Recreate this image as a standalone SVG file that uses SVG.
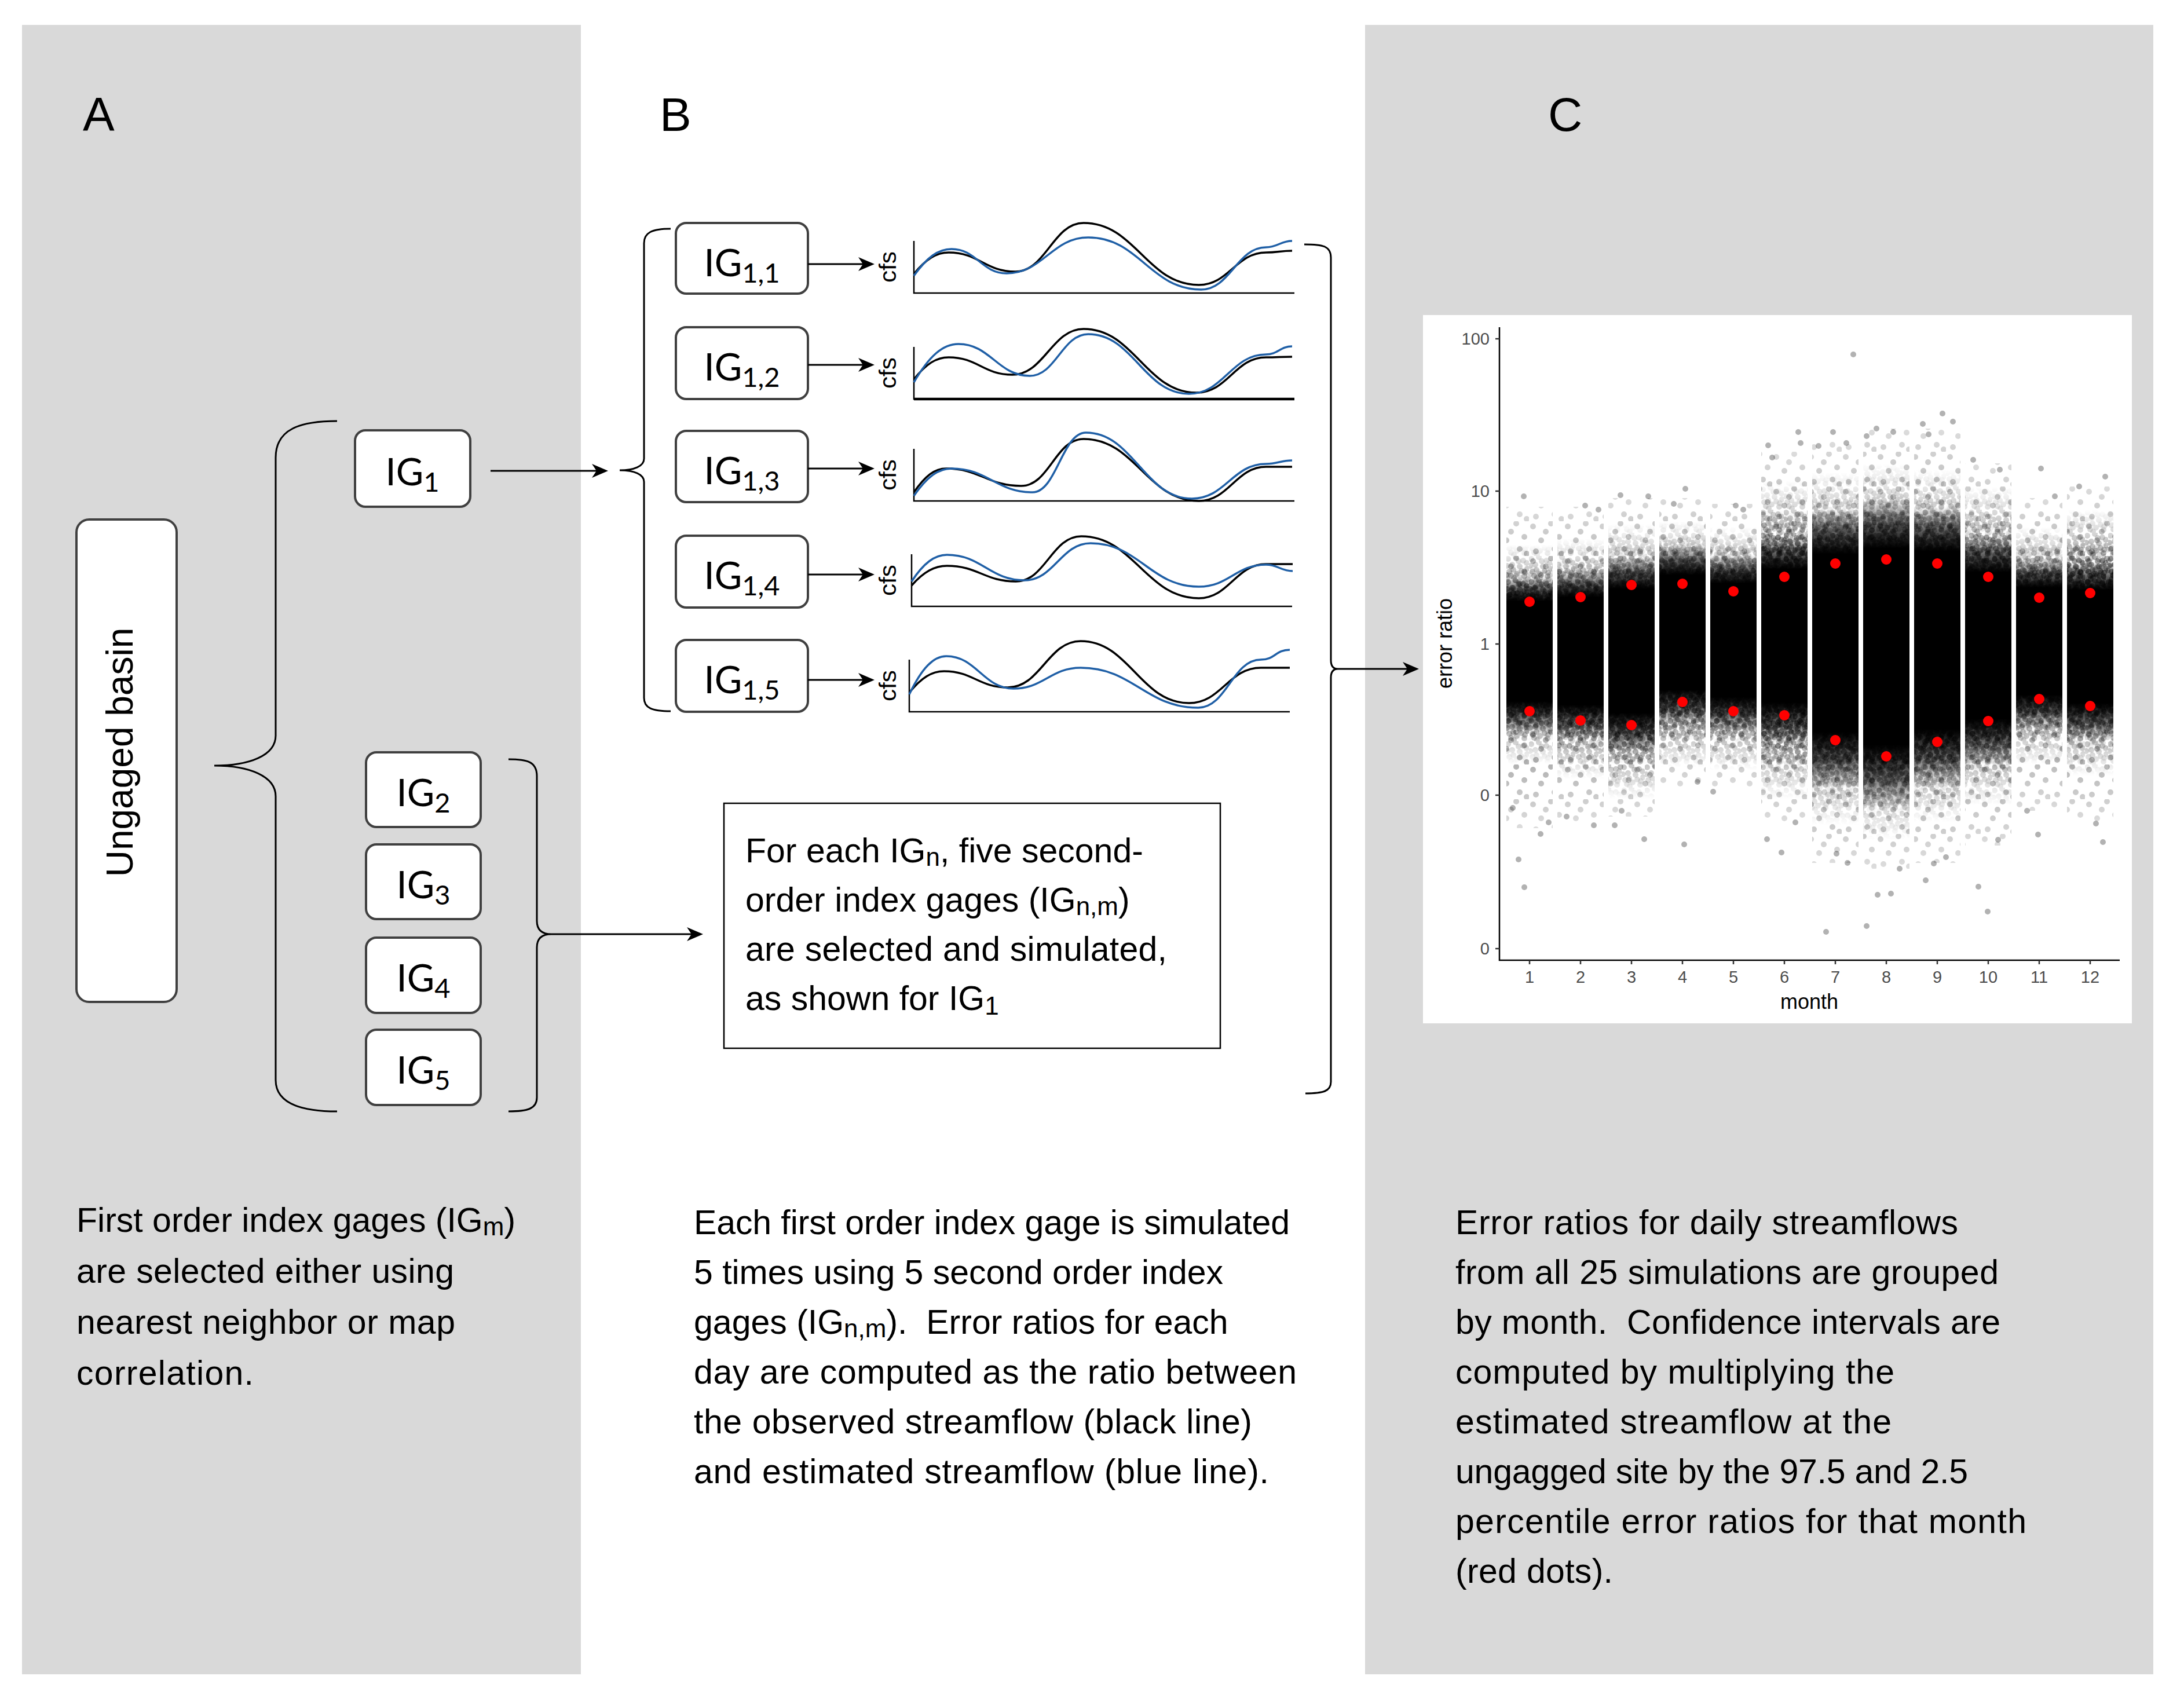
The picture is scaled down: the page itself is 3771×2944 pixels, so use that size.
<svg xmlns="http://www.w3.org/2000/svg" width="3771" height="2944" viewBox="0 0 3771 2944">
<defs>
<style>
.panel{fill:#d9d9d9}
.lbl{font-family:"Liberation Sans",Arial,sans-serif;font-size:82px;fill:#000}
.body{font-family:"Liberation Sans",Arial,sans-serif;font-size:59px;fill:#000;white-space:pre}
.sub{font-size:44px}
.box{fill:#fff;stroke:#404040;stroke-width:4}
.tbox{fill:#fff;stroke:#000;stroke-width:2.5}
.ig{font-family:Lato,"Liberation Sans",sans-serif;font-size:65px;fill:#000}
.igs{font-size:47px}
.con{fill:none;stroke:#000;stroke-width:3}
.arrow{fill:none;stroke:#000;stroke-width:3;marker-end:url(#ah)}
.axis{fill:none;stroke:#000;stroke-width:2.5}
.obs{fill:none;stroke:#000;stroke-width:3.5}
.est{fill:none;stroke:#1f5fa6;stroke-width:3.5}
.cfs{font-family:"Liberation Sans",Arial,sans-serif;font-size:40px;fill:#000}
.tick{font-family:"Liberation Sans",Arial,sans-serif;font-size:29px;fill:#4d4d4d}
.ttl{font-family:"Liberation Sans",Arial,sans-serif;font-size:36px;fill:#000}
.sp{fill:url(#ps);mask:url(#fm2)}
.ha{fill:url(#pdA);mask:url(#fm)}
.hb{fill:url(#pdB);mask:url(#fm)}
.core{fill:url(#cg)}
.red{fill:#ff0000}
.out{fill:#000;fill-opacity:.3}
.tk{stroke:#333;stroke-width:2.5}
</style>
<marker id="ah" viewBox="-30 -15 30 30" refX="-5" refY="0" markerWidth="30" markerHeight="30" markerUnits="userSpaceOnUse" orient="auto">
<path d="M0,0 L-28,-12 L-20,0 L-28,12 Z" fill="#000"/>
</marker>
<linearGradient id="cg" x1="0" y1="0" x2="0" y2="1">
<stop offset="0" stop-color="#000" stop-opacity="0"/>
<stop offset=".08" stop-color="#000" stop-opacity=".6"/>
<stop offset=".16" stop-color="#000" stop-opacity="1"/>
<stop offset=".8" stop-color="#000" stop-opacity="1"/>
<stop offset=".9" stop-color="#000" stop-opacity=".6"/>
<stop offset="1" stop-color="#000" stop-opacity="0"/>
</linearGradient>
<linearGradient id="fg" x1="0" y1="0" x2="0" y2="1">
<stop offset="0" stop-color="#fff" stop-opacity="0"/>
<stop offset=".22" stop-color="#fff" stop-opacity="1"/>
<stop offset=".78" stop-color="#fff" stop-opacity="1"/>
<stop offset="1" stop-color="#fff" stop-opacity="0"/>
</linearGradient>
<linearGradient id="fg2" x1="0" y1="0" x2="0" y2="1">
<stop offset="0" stop-color="#fff" stop-opacity=".45"/>
<stop offset=".2" stop-color="#fff" stop-opacity="1"/>
<stop offset=".8" stop-color="#fff" stop-opacity="1"/>
<stop offset="1" stop-color="#fff" stop-opacity=".45"/>
</linearGradient>
<mask id="fm" maskContentUnits="objectBoundingBox" x="0" y="0" width="1" height="1">
<rect x="0" y="0" width="1" height="1" fill="url(#fg)"/>
</mask>
<mask id="fm2" maskContentUnits="objectBoundingBox" x="0" y="0" width="1" height="1">
<rect x="0" y="0" width="1" height="1" fill="url(#fg2)"/>
</mask>
<pattern id="pdA" width="40" height="40" patternUnits="userSpaceOnUse">
<g fill="#000" fill-opacity=".4">
<circle cx="4" cy="5" r="5"/><circle cx="17" cy="2" r="5"/><circle cx="30" cy="8" r="5"/><circle cx="11" cy="15" r="5"/><circle cx="24" cy="18" r="5"/><circle cx="37" cy="22" r="5"/><circle cx="6" cy="27" r="5"/><circle cx="19" cy="31" r="5"/><circle cx="32" cy="35" r="5"/><circle cx="14" cy="38" r="5"/><circle cx="27" cy="26" r="5"/><circle cx="2" cy="17" r="5"/><circle cx="36" cy="12" r="5"/><circle cx="9" cy="34" r="5"/><circle cx="22" cy="9" r="5"/><circle cx="33" cy="29" r="5"/><circle cx="13" cy="24" r="5"/>
</g>
</pattern>
<pattern id="pdB" width="36" height="36" patternUnits="userSpaceOnUse">
<g fill="#000" fill-opacity=".45">
<circle cx="8" cy="3" r="5"/><circle cx="21" cy="7" r="5"/><circle cx="33" cy="2" r="5"/><circle cx="3" cy="13" r="5"/><circle cx="15" cy="19" r="5"/><circle cx="28" cy="16" r="5"/><circle cx="10" cy="28" r="5"/><circle cx="24" cy="30" r="5"/><circle cx="34" cy="25" r="5"/><circle cx="18" cy="11" r="5"/><circle cx="5" cy="33" r="5"/><circle cx="30" cy="34" r="5"/><circle cx="25" cy="22" r="5"/><circle cx="12" cy="21" r="5"/>
</g>
</pattern>
<pattern id="ps" width="60" height="60" patternUnits="userSpaceOnUse">
<g fill="#000" fill-opacity=".3">
<circle cx="7" cy="9" r="5"/><circle cx="38" cy="4" r="5"/><circle cx="52" cy="27" r="5"/><circle cx="21" cy="33" r="5"/><circle cx="44" cy="48" r="5"/><circle cx="12" cy="52" r="5"/><circle cx="29" cy="18" r="5"/><circle cx="56" cy="56" r="5"/>
</g>
</pattern>
</defs>

<rect x="0" y="0" width="3771" height="2944" fill="#fff"/>
<g id="panels">
<rect class="panel" x="38" y="43" width="965" height="2848"/>
<rect class="panel" x="2357" y="43" width="1361" height="2848"/>
</g>

<g id="panel-labels">
<text class="lbl" x="143" y="225">A</text>
<text class="lbl" x="1139" y="226">B</text>
<text class="lbl" x="2673" y="226">C</text>
</g>

<g id="node-ungaged">
<rect class="box" x="132" y="897" width="173" height="833" rx="22"/>
<text class="body" style="font-size:64px" text-anchor="middle" transform="translate(229,1299) rotate(-90)">Ungaged basin</text>
</g>

<g id="node-IG1">
<rect class="box" x="613" y="743" width="199" height="132" rx="18"/>
<text class="ig" x="712" y="838" text-anchor="middle">IG<tspan class="igs" dy="11">1</tspan></text>
</g>
<g id="node-IG2">
<rect class="box" x="632" y="1299" width="198" height="129" rx="18"/>
<text class="ig" x="731" y="1392" text-anchor="middle">IG<tspan class="igs" dy="11">2</tspan></text>
</g>
<g id="node-IG3">
<rect class="box" x="632" y="1458" width="198" height="129" rx="18"/>
<text class="ig" x="731" y="1551" text-anchor="middle">IG<tspan class="igs" dy="11">3</tspan></text>
</g>
<g id="node-IG4">
<rect class="box" x="632" y="1619" width="198" height="130" rx="18"/>
<text class="ig" x="731" y="1712" text-anchor="middle">IG<tspan class="igs" dy="11">4</tspan></text>
</g>
<g id="node-IG5">
<rect class="box" x="632" y="1778" width="198" height="130" rx="18"/>
<text class="ig" x="731" y="1871" text-anchor="middle">IG<tspan class="igs" dy="11">5</tspan></text>
</g>

<g id="node-IG11">
<rect class="box" x="1167" y="385" width="228" height="122" rx="18"/>
<text class="ig" x="1281" y="477" text-anchor="middle">IG<tspan class="igs" dy="11">1,1</tspan></text>
</g>
<g id="node-IG12">
<rect class="box" x="1167" y="565" width="228" height="124" rx="18"/>
<text class="ig" x="1281" y="657" text-anchor="middle">IG<tspan class="igs" dy="11">1,2</tspan></text>
</g>
<g id="node-IG13">
<rect class="box" x="1167" y="744" width="228" height="123" rx="18"/>
<text class="ig" x="1281" y="836" text-anchor="middle">IG<tspan class="igs" dy="11">1,3</tspan></text>
</g>
<g id="node-IG14">
<rect class="box" x="1167" y="925" width="228" height="124" rx="18"/>
<text class="ig" x="1281" y="1017" text-anchor="middle">IG<tspan class="igs" dy="11">1,4</tspan></text>
</g>
<g id="node-IG15">
<rect class="box" x="1167" y="1105" width="228" height="124" rx="18"/>
<text class="ig" x="1281" y="1197" text-anchor="middle">IG<tspan class="igs" dy="11">1,5</tspan></text>
</g>

<g id="chart1" transform="translate(1578,506)">
<path class="axis" d="M0,-90 L0,0 L657,0"/>
<path class="obs" d="M0,-33 C21,-59 39,-70 60,-70 C112,-70 123,-37 175,-37 C228,-37 240,-121 293,-121 C383,-121 402,-14 492,-14 C544,-14 556,-70 608,-70 C628,-70 633,-73 653,-73"/>
<path class="est" d="M0,-30 C23,-62 42,-76 65,-76 C108,-76 117,-34 160,-34 C223,-34 238,-96 301,-96 C389,-96 408,-6 496,-6 C546,-6 558,-79 608,-79 C628,-79 633,-90 653,-90"/>
<text class="cfs" text-anchor="middle" textLength="54" lengthAdjust="spacingAndGlyphs" transform="translate(-31,-45) rotate(-90)">cfs</text>
</g>
<g id="chart2" transform="translate(1578,689)">
<path class="axis" d="M0,-90 L0,0 L657,0"/>
<path class="axis" style="stroke-width:4.5" d="M0,0 L657,0"/>
<path class="obs" d="M0,-34 C21,-61 39,-72 60,-72 C110,-72 120,-42 170,-42 C225,-42 238,-121 293,-121 C381,-121 400,-11 488,-11 C542,-11 554,-72 608,-72 C628,-72 633,-73 653,-73"/>
<path class="est" d="M0,-29 C27,-75 50,-95 77,-95 C132,-95 145,-40 200,-40 C245,-40 256,-112 301,-112 C379,-112 397,-9 475,-9 C535,-9 548,-77 608,-77 C628,-77 633,-91 653,-91"/>
<text class="cfs" text-anchor="middle" textLength="54" lengthAdjust="spacingAndGlyphs" transform="translate(-31,-45) rotate(-90)">cfs</text>
</g>
<g id="chart3" transform="translate(1578,865)">
<path class="axis" d="M0,-90 L0,0 L657,0"/>
<path class="obs" d="M0,-15 C20,-44 36,-56 56,-56 C114,-56 127,-26 185,-26 C234,-26 244,-107 293,-107 C383,-107 402,0 492,0 C544,0 556,-59 608,-59 C628,-59 633,-59 653,-59"/>
<path class="est" d="M0,-9 C23,-42 42,-56 65,-56 C128,-56 142,-15 205,-15 C246,-15 256,-118 297,-118 C379,-118 398,-4 480,-4 C538,-4 550,-64 608,-64 C628,-64 633,-70 653,-70"/>
<text class="cfs" text-anchor="middle" textLength="54" lengthAdjust="spacingAndGlyphs" transform="translate(-31,-45) rotate(-90)">cfs</text>
</g>
<g id="chart4" transform="translate(1574,1047)">
<path class="axis" d="M0,-90 L0,0 L657,0"/>
<path class="obs" d="M0,-36 C21,-60 40,-70 61,-70 C115,-70 126,-43 180,-43 C231,-43 242,-121 293,-121 C384,-121 405,-14 496,-14 C548,-14 560,-73 612,-73 C633,-73 637,-73 658,-73"/>
<path class="est" d="M0,-43 C21,-75 40,-89 61,-89 C121,-89 135,-45 195,-45 C246,-45 258,-109 309,-109 C393,-109 412,-34 496,-34 C548,-34 560,-72 612,-72 C633,-72 637,-61 658,-61"/>
<text class="cfs" text-anchor="middle" textLength="54" lengthAdjust="spacingAndGlyphs" transform="translate(-27,-45) rotate(-90)">cfs</text>
</g>
<g id="chart5" transform="translate(1570,1229)">
<path class="axis" d="M0,-90 L0,0 L657,0"/>
<path class="obs" d="M0,-33 C21,-59 39,-70 60,-70 C110,-70 120,-42 170,-42 C227,-42 239,-122 296,-122 C380,-122 399,-15 483,-15 C539,-15 551,-76 607,-76 C632,-76 632,-76 657,-76"/>
<path class="est" d="M0,-30 C22,-76 42,-96 64,-96 C116,-96 128,-40 180,-40 C232,-40 244,-76 296,-76 C387,-76 408,-7 499,-7 C548,-7 558,-90 607,-90 C632,-90 632,-107 657,-107"/>
<text class="cfs" text-anchor="middle" textLength="54" lengthAdjust="spacingAndGlyphs" transform="translate(-23,-45) rotate(-90)">cfs</text>
</g>

<g id="node-textbox">
<rect class="tbox" x="1250" y="1387" width="857" height="423"/>
<text class="body" x="1287" y="1489">For each IG<tspan class="sub" dy="6">n</tspan><tspan dy="-6">, five second-</tspan></text>
<text class="body" x="1287" y="1574">order index gages (IG<tspan class="sub" dy="6">n,m</tspan><tspan dy="-6">)</tspan></text>
<text class="body" x="1287" y="1659" textLength="728" lengthAdjust="spacing">are selected and simulated,</text>
<text class="body" x="1287" y="1744">as shown for IG<tspan class="sub" dy="8">1</tspan></text>
</g>

<g id="plot">
<rect x="2457" y="544" width="1224" height="1223" fill="#fff"/>
<g id="scatter">
<rect class="sp" x="2601" y="875" width="80" height="555"/><rect class="ha" x="2601" y="940" width="80" height="380"/><rect class="hb" x="2601" y="975" width="80" height="305"/><rect class="core" x="2601" y="995" width="80" height="270"/>
<rect class="sp" x="2689" y="875" width="80" height="545"/><rect class="ha" x="2689" y="930" width="80" height="415"/><rect class="hb" x="2689" y="965" width="80" height="335"/><rect class="core" x="2689" y="985" width="80" height="290"/>
<rect class="sp" x="2777" y="860" width="80" height="550"/><rect class="ha" x="2777" y="905" width="80" height="475"/><rect class="hb" x="2777" y="940" width="80" height="380"/><rect class="core" x="2777" y="963" width="80" height="335"/>
<rect class="sp" x="2865" y="860" width="80" height="500"/><rect class="ha" x="2865" y="900" width="80" height="425"/><rect class="hb" x="2865" y="925" width="80" height="355"/><rect class="core" x="2865" y="943" width="80" height="310"/>
<rect class="sp" x="2953" y="870" width="80" height="490"/><rect class="ha" x="2953" y="910" width="80" height="420"/><rect class="hb" x="2953" y="935" width="80" height="350"/><rect class="core" x="2953" y="958" width="80" height="307"/>
<rect class="sp" x="3041" y="780" width="80" height="640"/><rect class="ha" x="3041" y="830" width="80" height="550"/><rect class="hb" x="3041" y="880" width="80" height="455"/><rect class="core" x="3041" y="925" width="80" height="360"/>
<rect class="sp" x="3129" y="760" width="80" height="730"/><rect class="ha" x="3129" y="815" width="80" height="610"/><rect class="hb" x="3129" y="860" width="80" height="520"/><rect class="core" x="3129" y="880" width="80" height="480"/>
<rect class="sp" x="3217" y="740" width="80" height="760"/><rect class="ha" x="3217" y="800" width="80" height="650"/><rect class="hb" x="3217" y="850" width="80" height="560"/><rect class="core" x="3217" y="862" width="80" height="530"/>
<rect class="sp" x="3305" y="740" width="80" height="750"/><rect class="ha" x="3305" y="810" width="80" height="610"/><rect class="hb" x="3305" y="860" width="80" height="520"/><rect class="core" x="3305" y="875" width="80" height="480"/>
<rect class="sp" x="3393" y="800" width="80" height="660"/><rect class="ha" x="3393" y="840" width="80" height="550"/><rect class="hb" x="3393" y="900" width="80" height="440"/><rect class="core" x="3393" y="925" width="80" height="395"/>
<rect class="sp" x="3481" y="860" width="80" height="540"/><rect class="ha" x="3481" y="910" width="80" height="410"/><rect class="hb" x="3481" y="940" width="80" height="340"/><rect class="core" x="3481" y="968" width="80" height="290"/>
<rect class="sp" x="3569" y="840" width="80" height="580"/><rect class="ha" x="3569" y="880" width="80" height="460"/><rect class="hb" x="3569" y="930" width="80" height="370"/><rect class="core" x="3569" y="970" width="80" height="305"/>
</g>
<g id="outliers" class="out">
<circle cx="2631" cy="857" r="5"/><circle cx="2622" cy="1484" r="5"/><circle cx="2632" cy="1532" r="5"/><circle cx="2674" cy="1420" r="5"/><circle cx="2660" cy="1440" r="5"/><circle cx="2612" cy="1395" r="5"/>
<circle cx="2737" cy="873" r="5"/><circle cx="2752" cy="1425" r="5"/><circle cx="2705" cy="1410" r="5"/><circle cx="2760" cy="880" r="5"/>
<circle cx="2798" cy="855" r="5"/><circle cx="2846" cy="857" r="5"/><circle cx="2788" cy="1425" r="5"/><circle cx="2839" cy="1449" r="5"/><circle cx="2800" cy="1400" r="5"/>
<circle cx="2910" cy="844" r="5"/><circle cx="2908" cy="1458" r="5"/><circle cx="2931" cy="1350" r="5"/><circle cx="2890" cy="870" r="5"/>
<circle cx="2997" cy="873" r="5"/><circle cx="2958" cy="1367" r="5"/><circle cx="3010" cy="880" r="5"/>
<circle cx="3053" cy="769" r="5"/><circle cx="3105" cy="746" r="5"/><circle cx="3109" cy="765" r="5"/><circle cx="3051" cy="1449" r="5"/><circle cx="3076" cy="1472" r="5"/><circle cx="3100" cy="1420" r="5"/><circle cx="3060" cy="790" r="5"/>
<circle cx="3200" cy="612" r="5"/><circle cx="3165" cy="746" r="5"/><circle cx="3188" cy="765" r="5"/><circle cx="3153" cy="1609" r="5"/><circle cx="3171" cy="1474" r="5"/><circle cx="3190" cy="1490" r="5"/><circle cx="3140" cy="770" r="5"/>
<circle cx="3223" cy="753" r="5"/><circle cx="3269" cy="746" r="5"/><circle cx="3223" cy="1599" r="5"/><circle cx="3242" cy="1545" r="5"/><circle cx="3265" cy="1543" r="5"/><circle cx="3280" cy="1500" r="5"/><circle cx="3240" cy="740" r="5"/>
<circle cx="3320" cy="732" r="5"/><circle cx="3354" cy="714" r="5"/><circle cx="3372" cy="728" r="5"/><circle cx="3325" cy="1520" r="5"/><circle cx="3339" cy="1491" r="5"/><circle cx="3360" cy="1480" r="5"/><circle cx="3330" cy="750" r="5"/>
<circle cx="3407" cy="794" r="5"/><circle cx="3453" cy="811" r="5"/><circle cx="3432" cy="1574" r="5"/><circle cx="3416" cy="1531" r="5"/><circle cx="3450" cy="1450" r="5"/>
<circle cx="3524" cy="809" r="5"/><circle cx="3519" cy="1441" r="5"/><circle cx="3548" cy="857" r="5"/><circle cx="3500" cy="1400" r="5"/>
<circle cx="3635" cy="823" r="5"/><circle cx="3631" cy="1454" r="5"/><circle cx="3619" cy="1422" r="5"/><circle cx="3590" cy="840" r="5"/>
</g>
<g id="percentiles" class="red">
<circle cx="2641" cy="1039" r="9"/><circle cx="2641" cy="1228" r="9"/>
<circle cx="2729" cy="1031" r="9"/><circle cx="2729" cy="1244" r="9"/>
<circle cx="2817" cy="1010" r="9"/><circle cx="2817" cy="1252" r="9"/>
<circle cx="2905" cy="1008" r="9"/><circle cx="2905" cy="1212" r="9"/>
<circle cx="2993" cy="1021" r="9"/><circle cx="2993" cy="1228" r="9"/>
<circle cx="3081" cy="996" r="9"/><circle cx="3081" cy="1235" r="9"/>
<circle cx="3169" cy="973" r="9"/><circle cx="3169" cy="1278" r="9"/>
<circle cx="3257" cy="966" r="9"/><circle cx="3257" cy="1306" r="9"/>
<circle cx="3345" cy="973" r="9"/><circle cx="3345" cy="1281" r="9"/>
<circle cx="3433" cy="996" r="9"/><circle cx="3433" cy="1245" r="9"/>
<circle cx="3521" cy="1032" r="9"/><circle cx="3521" cy="1207" r="9"/>
<circle cx="3609" cy="1024" r="9"/><circle cx="3609" cy="1219" r="9"/>
</g>
<g id="plot-axes">
<path class="axis" d="M2589,565 L2589,1658 L3660,1658"/>
<path class="tk" d="M2582,585 H2589 M2582,848 H2589 M2582,1112 H2589 M2582,1373 H2589 M2582,1638 H2589"/>
<path class="tk" d="M2641,1658 V1665 M2729,1658 V1665 M2817,1658 V1665 M2905,1658 V1665 M2993,1658 V1665 M3081,1658 V1665 M3169,1658 V1665 M3257,1658 V1665 M3345,1658 V1665 M3433,1658 V1665 M3521,1658 V1665 M3609,1658 V1665"/>
<g class="tick" text-anchor="end">
<text x="2572" y="595">100</text>
<text x="2572" y="858">10</text>
<text x="2572" y="1122">1</text>
<text x="2572" y="1383">0</text>
<text x="2572" y="1648">0</text>
</g>
<g class="tick" text-anchor="middle">
<text x="2641" y="1697">1</text><text x="2729" y="1697">2</text><text x="2817" y="1697">3</text><text x="2905" y="1697">4</text><text x="2993" y="1697">5</text><text x="3081" y="1697">6</text><text x="3169" y="1697">7</text><text x="3257" y="1697">8</text><text x="3345" y="1697">9</text><text x="3433" y="1697">10</text><text x="3521" y="1697">11</text><text x="3609" y="1697">12</text>
</g>
<text class="ttl" x="3124" y="1742" text-anchor="middle">month</text>
<text class="ttl" text-anchor="middle" transform="translate(2507,1111) rotate(-90)">error ratio</text>
</g>
</g>

<g id="connectors">
<path class="con" d="M582,727 C520,727 476,740 476,790 L476,1270 C476,1305 430,1322 370,1322 C430,1322 476,1340 476,1375 L476,1865 C476,1905 520,1919 582,1919"/>
<path class="con" d="M878,1311 C910,1311 927,1315 927,1340 L927,1590 C927,1605 935,1613 952,1613 C935,1613 927,1621 927,1636 L927,1895 C927,1915 910,1919 878,1919"/>
<path class="con" d="M1158,395 C1125,395 1112,402 1112,420 L1112,792 C1112,805 1095,812 1070,812 C1095,812 1112,819 1112,832 L1112,1205 C1112,1222 1125,1228 1158,1228"/>
<path class="con" d="M2252,422 C2285,422 2298,425 2298,445 L2298,1140 C2298,1150 2302,1155 2310,1155 C2302,1155 2298,1160 2298,1170 L2298,1868 C2298,1884 2285,1888 2254,1888"/>
<path class="arrow" d="M847,813 L1045,813"/>
<path class="arrow" d="M952,1613 L1209,1613"/>
<path class="arrow" d="M1395,456 L1505,456"/>
<path class="arrow" d="M1395,630 L1505,630"/>
<path class="arrow" d="M1395,809 L1505,809"/>
<path class="arrow" d="M1395,992 L1505,992"/>
<path class="arrow" d="M1395,1174 L1505,1174"/>
<path class="arrow" d="M2310,1155 L2445,1155"/>
</g>

<g id="text-A">
<text class="body" x="132" y="2127">First order index gages (IG<tspan class="sub" dy="6">m</tspan><tspan dy="-6">)</tspan></text>
<text class="body" x="132" y="2215" textLength="652" lengthAdjust="spacing">are selected either using</text>
<text class="body" x="132" y="2303" textLength="654" lengthAdjust="spacing">nearest neighbor or map</text>
<text class="body" x="132" y="2391" textLength="306" lengthAdjust="spacing">correlation.</text>
</g>
<g id="text-B">
<text class="body" x="1198" y="2131" textLength="1029" lengthAdjust="spacing">Each first order index gage is simulated</text>
<text class="body" x="1198" y="2217" textLength="914" lengthAdjust="spacing">5 times using 5 second order index</text>
<text class="body" x="1198" y="2303">gages (IG<tspan class="sub" dy="6">n,m</tspan><tspan dy="-6">).  Error ratios for each</tspan></text>
<text class="body" x="1198" y="2389" textLength="1041" lengthAdjust="spacing">day are computed as the ratio between</text>
<text class="body" x="1198" y="2475" textLength="964" lengthAdjust="spacing">the observed streamflow (black line)</text>
<text class="body" x="1198" y="2561" textLength="993" lengthAdjust="spacing">and estimated streamflow (blue line).</text>
</g>
<g id="text-C">
<text class="body" x="2513" y="2131" textLength="868" lengthAdjust="spacing">Error ratios for daily streamflows</text>
<text class="body" x="2513" y="2217" textLength="938" lengthAdjust="spacing">from all 25 simulations are grouped</text>
<text class="body" x="2513" y="2303" textLength="941" lengthAdjust="spacing">by month.  Confidence intervals are</text>
<text class="body" x="2513" y="2389" textLength="758" lengthAdjust="spacing">computed by multiplying the</text>
<text class="body" x="2513" y="2475" textLength="753" lengthAdjust="spacing">estimated streamflow at the</text>
<text class="body" x="2513" y="2561" textLength="885" lengthAdjust="spacing">ungagged site by the 97.5 and 2.5</text>
<text class="body" x="2513" y="2647" textLength="986" lengthAdjust="spacing">percentile error ratios for that month</text>
<text class="body" x="2513" y="2733" textLength="272" lengthAdjust="spacing">(red dots).</text>
</g>
</svg>
